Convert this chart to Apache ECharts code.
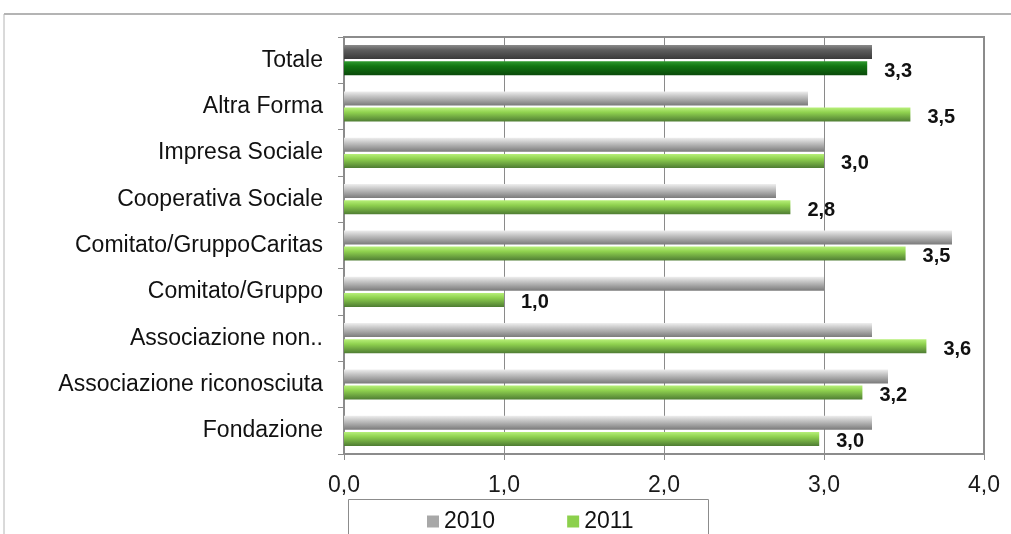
<!DOCTYPE html>
<html>
<head>
<meta charset="utf-8">
<script src="https://cdn.jsdelivr.net/npm/echarts@6/dist/echarts.min.js"></script>
<style>
  html, body { margin: 0; padding: 0; background: #fff; }
  #chart { width: 1011px; height: 534px; }
</style>
</head>
<body>
<div id="chart"></div>
<script>
// categories top to bottom, as in the picture
var categories = ["Totale", "Altra Forma", "Impresa Sociale", "Cooperativa Sociale",
  "Comitato/GruppoCaritas", "Comitato/Gruppo", "Associazione non..",
  "Associazione riconosciuta", "Fondazione"];
var values2010 = [3.3, 2.9, 3.0, 2.7, 3.8, 3.0, 3.3, 3.4, 3.3];
var values2011 = [3.27, 3.54, 3.0, 2.79, 3.51, 1.0, 3.64, 3.24, 2.97];
var xTicks = [0, 1, 2, 3, 4];

var FONT = "'Liberation Sans', Arial, sans-serif";

function grad(top, mid, bottom) {
  return new echarts.graphic.LinearGradient(0, 0, 0, 1, [
    { offset: 0, color: top },
    { offset: 0.35, color: mid },
    { offset: 1, color: bottom }
  ]);
}
var gray = grad('#eeeeee', '#c4c4c4', '#7a7a7a');
var green = grad('#b8f07a', '#8fd14f', '#4f7d33');
var darkGray = grad('#8a8a8a', '#5e5e5e', '#3a3a3a');
var darkGreen = grad('#2f9a2f', '#127512', '#0b4a0b');

function comma(v) { return v.toFixed(1).replace('.', ','); }

var chart = echarts.init(document.getElementById('chart'));
chart.setOption({
  animation: false,
  textStyle: { fontFamily: FONT },
  graphic: [
    { type: 'line', shape: { x1: 4, y1: 14, x2: 1011, y2: 14 }, style: { stroke: '#b4b4b4', lineWidth: 2 } },
    { type: 'line', shape: { x1: 4, y1: 14, x2: 4, y2: 534 }, style: { stroke: '#b4b4b4', lineWidth: 1 } },
    { type: 'rect', shape: { x: 348.5, y: 499.5, width: 360, height: 60 }, style: { fill: 'none', stroke: '#8c8c8c', lineWidth: 1 } }
  ],
  legend: {
    left: 422,
    top: 505,
    itemWidth: 12,
    itemHeight: 12,
    itemGap: 72,
    icon: 'rect',
    textStyle: { fontSize: 23, color: '#111', fontFamily: FONT, padding: [2, 0, 0, 0] },
    data: [
      { name: '2010', itemStyle: { color: '#a8a8a8' } },
      { name: '2011', itemStyle: { color: '#8cd04c' } }
    ]
  },
  grid: {
    left: 344, right: 27, top: 37, bottom: 80,
    show: true, borderColor: '#8c8c8c', borderWidth: 2, backgroundColor: '#fff'
  },
  xAxis: {
    type: 'value',
    min: xTicks[0],
    max: xTicks[xTicks.length - 1],
    interval: 1,
    axisLine: { show: true, lineStyle: { color: '#8c8c8c', width: 2 } },
    axisTick: { show: true, length: 6, lineStyle: { color: '#8c8c8c' } },
    splitLine: { show: true, lineStyle: { color: '#8a8a8a', width: 1 } },
    axisLabel: { fontSize: 23, color: '#1a1a1a', margin: 20, formatter: comma }
  },
  yAxis: {
    type: 'category',
    inverse: true,
    data: categories,
    axisLine: { show: true, lineStyle: { color: '#8c8c8c', width: 2 } },
    axisTick: { show: true, length: 6, lineStyle: { color: '#8c8c8c' } },
    axisLabel: { fontSize: 23, color: '#111', margin: 21 }
  },
  series: [
    {
      name: '2010',
      type: 'bar',
      barWidth: 14,
      barGap: '15%',
      data: values2010.map(function (v, i) {
        return { value: v, itemStyle: { color: i === 0 ? darkGray : gray } };
      })
    },
    {
      name: '2011',
      type: 'bar',
      barWidth: 14,
      barGap: '15%',
      data: values2011.map(function (v, i) {
        return { value: v, itemStyle: { color: i === 0 ? darkGreen : green } };
      }),
      label: {
        show: true,
        position: 'right',
        distance: 17,
        offset: [0, 3],
        fontSize: 20,
        fontWeight: 'bold',
        color: '#111',
        fontFamily: FONT,
        formatter: function (p) { return comma(p.value); }
      }
    }
  ]
});
</script>
</body>
</html>
